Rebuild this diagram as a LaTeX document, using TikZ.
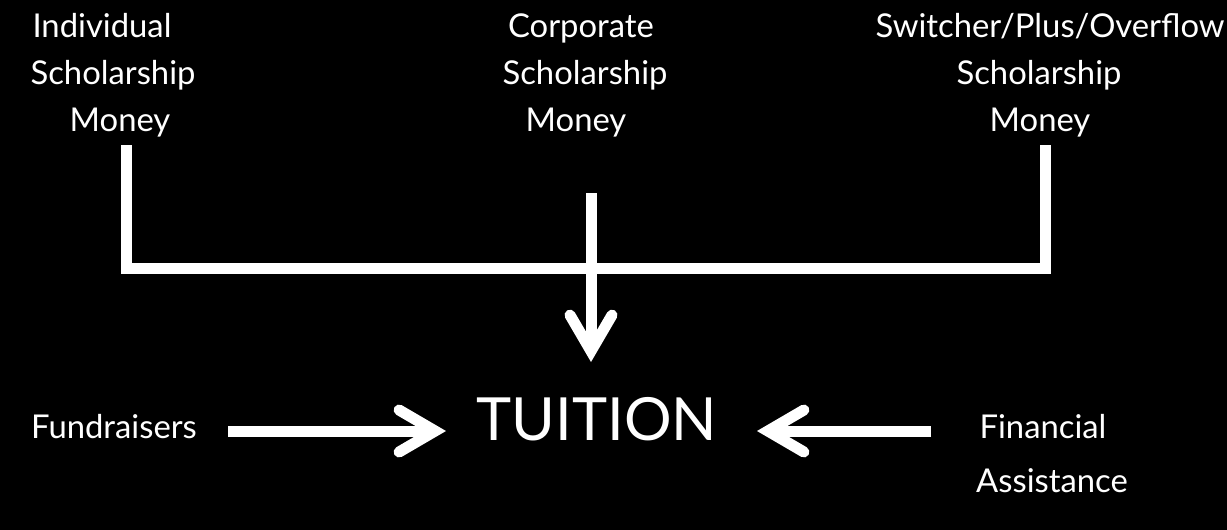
\documentclass[tikz,border=0pt]{standalone}
\usepackage{fontspec}
\setmainfont{Lato}
\usetikzlibrary{arrows.meta}
\begin{document}
\begin{tikzpicture}[x=1pt,y=-1pt,
  lbl/.style={text=white,inner sep=0pt,anchor=base,font=\fontsize{32.8}{33}\selectfont},
  big/.style={text=white,inner sep=0pt,anchor=base,font=\fontsize{59.5}{60}\selectfont},
  bar/.style={draw=white,line width=11pt,line cap=butt,line join=miter},
  arr/.style={draw=white,line width=11pt,-{Straight Barb[length=36pt,width=42pt,line cap=round,line join=miter]}}]
\useasboundingbox (0,0) rectangle (1227,530);
\fill[black] (0,0) rectangle (1227,530);
% labels
\node[lbl] (ind1) at (102,37) {Individual};
\node[lbl] (ind2) at (113,84) {Scholarship};
\node[lbl] (ind3) at (120,131) {Money};
\node[lbl] (cor1) at (581,37) {Corporate};
\node[lbl] (cor2) at (585,84) {Scholarship};
\node[lbl] (cor3) at (576,131) {Money};
\node[lbl] (sw1) at (1050,37) {Switcher/Plus/Overflow};
\node[lbl] (sw2) at (1039,84) {Scholarship};
\node[lbl] (sw3) at (1040,131) {Money};
\node[lbl] (fund) at (114,438) {Fundraisers};
\node[big] (tuition) at (597,440) {TUITION};
\node[lbl] (fin1) at (1043,438) {Financial};
\node[lbl] (fin2) at (1052,492) {Assistance};
% connector coordinates
\coordinate (lt) at (126,145);
\coordinate (lb) at (126,268);
\coordinate (rb) at (1045,268);
\coordinate (rt) at (1045,145);
\coordinate (ct) at (591,193);
\coordinate (cend) at (591,362);
\coordinate (fa) at (228,431);
\coordinate (fb) at (446,431);
\coordinate (ra) at (931,431);
\coordinate (rbe) at (757,431);
% connectors
\draw[bar] (lt) -- (lb) -- (rb) -- (rt);
\draw[arr] (ct) -- (cend);
\draw[arr] (fa) -- (fb);
\draw[arr] (ra) -- (rbe);
\end{tikzpicture}
\end{document}
